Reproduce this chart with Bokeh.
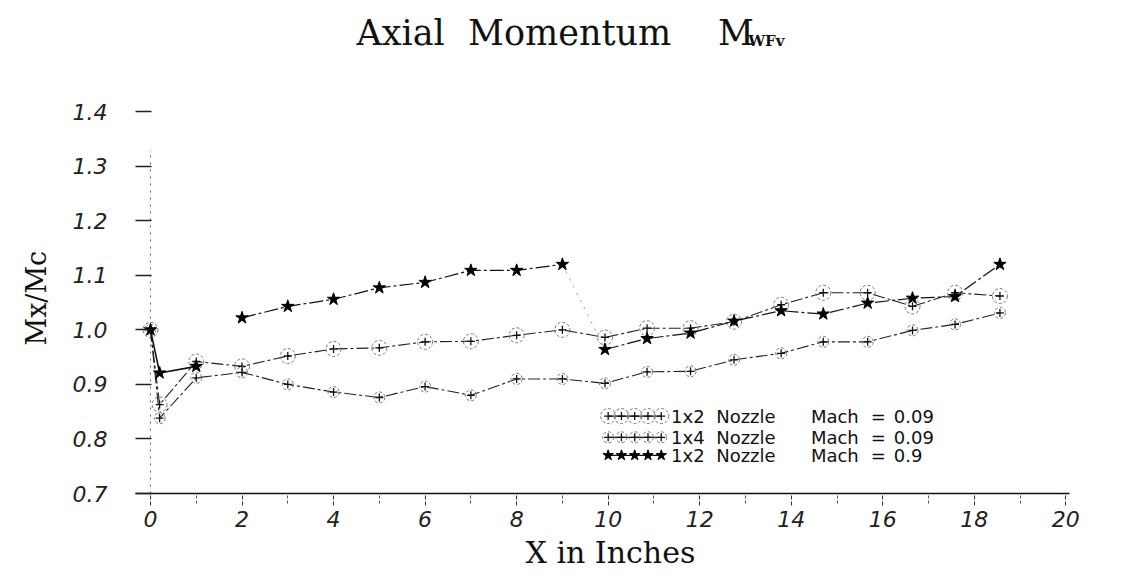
from bokeh.plotting import figure
from bokeh.models import Range1d, FixedTicker, NumeralTickFormatter, Title
from bokeh.embed import file_html
from bokeh.resources import INLINE
from bokeh.core.properties import value

# ---------------- data ----------------
x_inches = [0, 0.2, 1, 2, 3, 4, 5, 6, 7, 8, 9, 9.93, 10.85, 11.8, 12.75,
            13.78, 14.7, 15.67, 16.65, 17.58, 18.56]
m_1x2_m009 = [1.0, 0.863, 0.942, 0.933, 0.952, 0.965, 0.967, 0.978, 0.979, 0.990,
              1.000, 0.986, 1.003, 1.003, 1.015, 1.046, 1.068, 1.068, 1.043, 1.068, 1.062]
m_1x4_m009 = [1.0, 0.838, 0.912, 0.922, 0.900, 0.886, 0.876, 0.896, 0.880, 0.910,
              0.910, 0.902, 0.923, 0.924, 0.945, 0.957, 0.978, 0.978, 0.999, 1.010, 1.031]
m_1x2_m09 = [1.0, 0.921, 0.933, 1.022, 1.043, 1.056, 1.077, 1.087, 1.109, 1.109,
             1.120, 0.964, 0.984, 0.994, 1.016, 1.035, 1.029, 1.049, 1.058, 1.061, 1.120]

x_ticks = [0, 2, 4, 6, 8, 10, 12, 14, 16, 18, 20]
x_minor = [1, 3, 5, 7, 9, 11, 13, 15, 17, 19]
y_ticks = [0.7, 0.8, 0.9, 1.0, 1.1, 1.2, 1.3, 1.4]

legend_nozzle = ["1x2", "1x4", "1x2"]
legend_mach = ["0.09", "0.09", "0.9"]

title_words = ["Axial", "Momentum", "M"]
title_sub = "WFv"

SERIF = "DejaVu Serif"
SANS = "DejaVu Sans"

# frame spans the title area too (title is drawn as text inside it)
p = figure(width=1110, height=579, output_backend="svg", toolbar_location=None,
           x_range=Range1d(-0.3275, 20.08), y_range=Range1d(0.7, 1.6),
           min_border_left=134, min_border_right=41, min_border_top=2,
           min_border_bottom=86)
p.outline_line_color = None
p.xgrid.visible = False
p.ygrid.visible = False
p.background_fill_color = "white"

# ---------------- axes ----------------
xa = p.xaxis[0]
xa.ticker = FixedTicker(ticks=x_ticks, minor_ticks=x_minor)
xa.axis_line_width = 1.6
xa.axis_line_color = "#111111"
xa.major_tick_in = 0
xa.major_tick_out = 12
xa.major_tick_line_dash = "4 2"
xa.major_tick_line_color = "#333333"
xa.minor_tick_in = 0
xa.minor_tick_out = 10
xa.minor_tick_line_dash = "3 2"
xa.minor_tick_line_color = "#555555"
xa.major_label_text_font = SANS
xa.major_label_text_font_style = "italic"
xa.major_label_text_font_size = "22px"
xa.major_label_text_color = "#222222"
xa.major_label_standoff = 5

ya = p.yaxis[0]
ya.ticker = FixedTicker(ticks=y_ticks)
ya.formatter = NumeralTickFormatter(format="0.0")
ya.axis_line_color = None
ya.major_tick_in = 16
ya.major_tick_out = 0
ya.major_tick_line_width = 1.5
ya.major_tick_line_color = "#222222"
ya.minor_tick_line_color = None
ya.major_label_text_font = SANS
ya.major_label_text_font_style = "italic"
ya.major_label_text_font_size = "22px"
ya.major_label_text_color = "#222222"
ya.major_label_standoff = 28

# axis titles, placed beside the axes and shifted to match the reference
p.add_layout(Title(text="Mx/Mc", align="left", offset=148, standoff=36,
                   text_font=SERIF, text_font_size="27px", text_font_style="normal",
                   text_color="#111111"), "left")
p.add_layout(Title(text="X in Inches", align="left", offset=390, standoff=6,
                   text_font=SERIF, text_font_size="30px", text_font_style="normal",
                   text_color="#111111"), "below")

# dotted vertical line at x = 0 (the reference's y axis)
p.segment(x0=[x_inches[0]], y0=[0.7], x1=[x_inches[0]], y1=[1.33],
          line_color="#666666", line_width=1, line_dash="2 5")

# ---------------- series ----------------
# 1x2 nozzle, Mach 0.09
p.line(x_inches, m_1x2_m009, line_color="#222222", line_width=1.1, line_dash="12 3 3 3")
p.scatter(x_inches, m_1x2_m009, marker="circle", size=15, fill_color=None,
          line_color="#777777", line_width=1, line_dash="3 2")
p.scatter(x_inches, m_1x2_m009, marker="cross", size=8, line_color="#111111", line_width=1.3)

# 1x4 nozzle, Mach 0.09
p.line(x_inches, m_1x4_m009, line_color="#222222", line_width=1.1, line_dash="12 3 3 3")
p.scatter(x_inches, m_1x4_m009, marker="circle", size=11, fill_color=None,
          line_color="#777777", line_width=1, line_dash="3 2")
p.scatter(x_inches, m_1x4_m009, marker="cross", size=8, line_color="#111111", line_width=1.3)

# 1x2 nozzle, Mach 0.9 (stars) - gap between x=1 and x=2, faint drop after x=9
p.line(x_inches[:3], m_1x2_m09[:3], line_color="#111111", line_width=1.6)
p.line(x_inches[3:11], m_1x2_m09[3:11], line_color="#111111", line_width=1.2, line_dash="14 3 3 3")
p.line(x_inches[10:12], m_1x2_m09[10:12], line_color="#999999", line_width=1, line_dash="2 6")
p.line(x_inches[11:], m_1x2_m09[11:], line_color="#111111", line_width=1.2, line_dash="14 3 3 3")
p.scatter(x_inches, m_1x2_m09, marker="star", size=13, fill_color="#000000",
          line_color="#000000")

# ---------------- legend (drawn manually: row of 5 sample markers) ----------------
leg_x = [10.0, 10.29, 10.58, 10.87, 11.16]
leg_y = [0.842, 0.803, 0.770]
p.line(leg_x, [leg_y[0]] * 5, line_color="#111111", line_width=1.3)
p.scatter(leg_x, [leg_y[0]] * 5, marker="circle", size=15, fill_color=None,
          line_color="#777777", line_width=1, line_dash="3 2")
p.scatter(leg_x, [leg_y[0]] * 5, marker="cross", size=8, line_color="#111111", line_width=1.3)
p.line(leg_x, [leg_y[1]] * 5, line_color="#111111", line_width=1.3)
p.scatter(leg_x, [leg_y[1]] * 5, marker="circle", size=11, fill_color=None,
          line_color="#777777", line_width=1, line_dash="3 2")
p.scatter(leg_x, [leg_y[1]] * 5, marker="cross", size=8, line_color="#111111", line_width=1.3)
p.line(leg_x, [leg_y[2]] * 5, line_color="#111111", line_width=1.3)
p.scatter(leg_x, [leg_y[2]] * 5, marker="star", size=11, fill_color="#000000", line_color="#000000")

txt = dict(text_font=value(SANS), text_font_size="18px", text_color="#111111",
           text_baseline="middle", text_align="left")
p.text(x=[11.375] * 3, y=leg_y, text=legend_nozzle, **txt)
p.text(x=[12.36] * 3, y=leg_y, text=["Nozzle"] * 3, **txt)
p.text(x=[14.43] * 3, y=leg_y, text=["Mach"] * 3, **txt)
p.text(x=[15.74] * 3, y=leg_y, text=["="] * 3, **txt)
p.text(x=[16.24] * 3, y=leg_y, text=legend_mach, **txt)

# ---------------- title (inside the top of the frame) ----------------
p.text(x=[4.5, 6.94, 12.4], y=[1.544] * 3, text=title_words,
       text_font=value(SERIF), text_font_size="35px", text_color="#111111",
       text_baseline="alphabetic", text_align="left")
p.text(x=[13.06], y=[1.5295], text=[title_sub],
       text_font=value(SERIF), text_font_size="15px", text_font_style="bold",
       text_color="#111111", text_baseline="alphabetic", text_align="left")

open("out.html", "w").write(file_html(p, INLINE))
